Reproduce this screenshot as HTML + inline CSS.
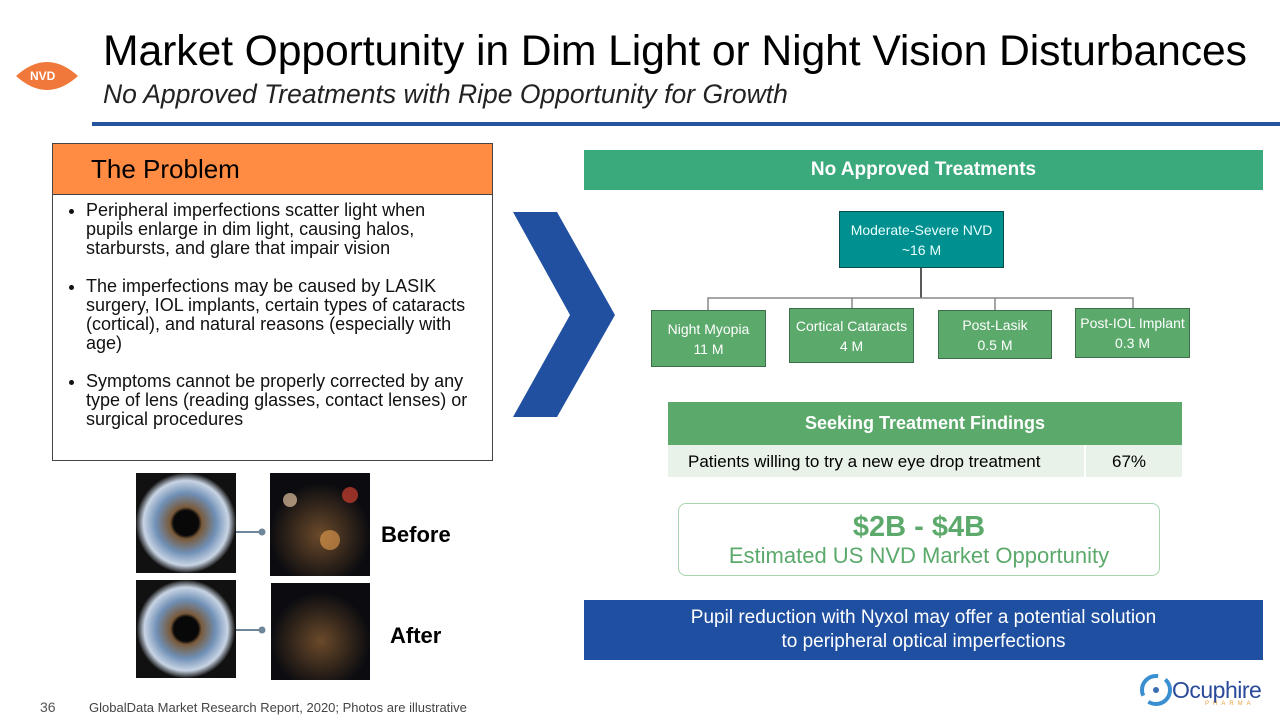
<!DOCTYPE html>
<html><head><style>
body{margin:0;width:1280px;height:720px;position:relative;background:#fff;font-family:"Liberation Sans",sans-serif;overflow:hidden}
.a{position:absolute}
.c{display:flex;align-items:center;justify-content:center;text-align:center;flex-direction:column}
.g{background:#5ba96b;color:#fff;font-size:14px;line-height:20px;border:1px solid #3d6e48;box-sizing:border-box}
ul{margin:0;padding-left:33px;font-size:18px;line-height:19px;letter-spacing:0px;white-space:nowrap}
li{margin-bottom:19px}
</style></head><body>
<svg class="a" style="left:0;top:0" width="1280" height="720">
<path d="M16 76 Q47 48 78 76 Q47 104 16 76Z" fill="#f0783a"/>
<rect x="92" y="122" width="1188" height="4" fill="#2453a0"/>
<polygon points="513,212 557,212 615,315 557,417 513,417 570,315" fill="#2150a0"/>
<g stroke="#222" stroke-width="1.5" fill="none"><line x1="921" y1="268" x2="921" y2="298"/></g>
<g stroke="#888" stroke-width="1.5" fill="none"><polyline points="708,310 708,298 1133,298 1133,308"/><line x1="852" y1="298" x2="852" y2="308"/><line x1="995" y1="298" x2="995" y2="310"/></g>
<defs><radialGradient id="e"><stop offset="0.25" stop-color="#080808"/><stop offset="0.32" stop-color="#7a5a3a"/><stop offset="0.6" stop-color="#6f8fb5"/><stop offset="0.85" stop-color="#c8d4e4"/><stop offset="1" stop-color="#1b1b1b"/></radialGradient><radialGradient id="n" cx="0.5" cy="0.6"><stop offset="0" stop-color="#6b4a2a"/><stop offset="1" stop-color="#0c0c10"/></radialGradient></defs>
<rect x="136" y="473" width="100" height="100" fill="#111"/><circle cx="186" cy="523" r="50" fill="url(#e)"/>
<rect x="136" y="580" width="100" height="98" fill="#111"/><circle cx="186" cy="629" r="49" fill="url(#e)"/>
<rect x="270" y="473" width="100" height="103" fill="url(#n)"/>
<circle cx="290" cy="500" r="7" fill="#e0c0a0" opacity=".7"/><circle cx="350" cy="495" r="8" fill="#d04030" opacity=".7"/><circle cx="330" cy="540" r="10" fill="#e8a050" opacity=".6"/>
<rect x="271" y="583" width="99" height="97" fill="url(#n)"/>
<g stroke="#6f8599" stroke-width="2"><line x1="236" y1="532" x2="262" y2="532"/><line x1="236" y1="630" x2="262" y2="630"/></g>
<circle cx="262" cy="532" r="3.5" fill="#6f8599"/><circle cx="262" cy="630" r="3.5" fill="#6f8599"/>
<circle cx="1156" cy="690" r="14" fill="none" stroke="#3a8fd0" stroke-width="4" stroke-dasharray="30 8"/><circle cx="1156" cy="690" r="3" fill="#3a6fb0"/>
</svg>
<div class="a" style="left:30px;top:69px;font-size:12px;color:#fff;font-weight:bold">NVD</div>
<div class="a" style="left:103px;top:27px;font-size:42.7px;color:#000;white-space:nowrap;letter-spacing:-0.1px">Market Opportunity in Dim Light or Night Vision Disturbances</div>
<div class="a" style="left:103px;top:79px;font-size:26.5px;font-style:italic;color:#222;white-space:nowrap">No Approved Treatments with Ripe Opportunity for Growth</div>
<div class="a" style="left:52px;top:143px;width:441px;height:52px;background:#ff8c42;border:1px solid #444;box-sizing:border-box;font-size:26px;line-height:50px;padding-left:38px">The Problem</div>
<div class="a" style="left:52px;top:194px;width:441px;height:267px;border:1px solid #444;box-sizing:border-box;padding-top:6px;color:#111">
<ul><li>Peripheral imperfections scatter light when<br>pupils enlarge in dim light, causing halos,<br>starbursts, and glare that impair vision</li><li>The imperfections may be caused by LASIK<br>surgery, IOL implants, certain types of cataracts<br>(cortical), and natural reasons (especially with<br>age)</li><li>Symptoms cannot be properly corrected by any<br>type of lens (reading glasses, contact lenses) or<br>surgical procedures</li></ul></div>
<div class="a" style="left:381px;top:522px;font-size:22px;font-weight:bold">Before</div>
<div class="a" style="left:390px;top:623px;font-size:22px;font-weight:bold">After</div>
<div class="a c" style="left:584px;top:150px;width:679px;height:40px;background:#3aaa7c;color:#fff;font-weight:bold;font-size:19px">No Approved Treatments</div>
<div class="a c" style="left:839px;top:211px;width:165px;height:57px;background:#009090;color:#e8ffff;font-size:14px;line-height:20px;border:1px solid #0b4d4d;box-sizing:border-box">Moderate-Severe NVD<br>~16 M</div>
<div class="a c g" style="left:651px;top:310px;width:115px;height:57px">Night Myopia<br>11 M</div>
<div class="a c g" style="left:789px;top:308px;width:125px;height:55px">Cortical Cataracts<br>4 M</div>
<div class="a c g" style="left:938px;top:310px;width:114px;height:49px">Post-Lasik<br>0.5 M</div>
<div class="a c g" style="left:1075px;top:308px;width:115px;height:50px">Post-IOL Implant<br>0.3 M</div>
<div class="a c" style="left:668px;top:402px;width:514px;height:43px;background:#5ba96b;color:#fff;font-weight:bold;font-size:18px">Seeking Treatment Findings</div>
<div class="a" style="left:668px;top:445px;width:514px;height:32px;background:#e8f2e8;font-size:17px;line-height:34px">
<span class="a" style="left:20px;white-space:nowrap">Patients willing to try a new eye drop treatment</span>
<span class="a" style="left:416px;top:0;width:2px;height:32px;background:#fff"></span>
<span class="a" style="left:444px">67%</span></div>
<div class="a c" style="left:678px;top:503px;width:482px;height:73px;border:1px solid #a8d4b0;border-radius:8px;box-sizing:border-box;color:#5ba96b">
<div style="font-size:29px;font-weight:bold;line-height:32px">$2B - $4B</div><div style="font-size:22px;line-height:26px">Estimated US NVD Market Opportunity</div></div>
<div class="a c" style="left:584px;top:600px;width:679px;height:60px;background:#1f4fa0;color:#fff;font-size:19px;line-height:24px">Pupil reduction with Nyxol may offer a potential solution<br>to peripheral optical imperfections</div>
<div class="a" style="left:40px;top:699px;font-size:14px;color:#555">36</div>
<div class="a" style="left:89px;top:700px;font-size:13px;color:#444">GlobalData Market Research Report, 2020; Photos are illustrative</div>
<div class="a" style="left:1172px;top:677px;font-size:23px;color:#2a4a9a;letter-spacing:-0.5px">Ocuphire</div>
<div class="a" style="left:1205px;top:701px;font-size:6px;color:#e8a040;letter-spacing:4px">PHARMA</div>
</body></html>
